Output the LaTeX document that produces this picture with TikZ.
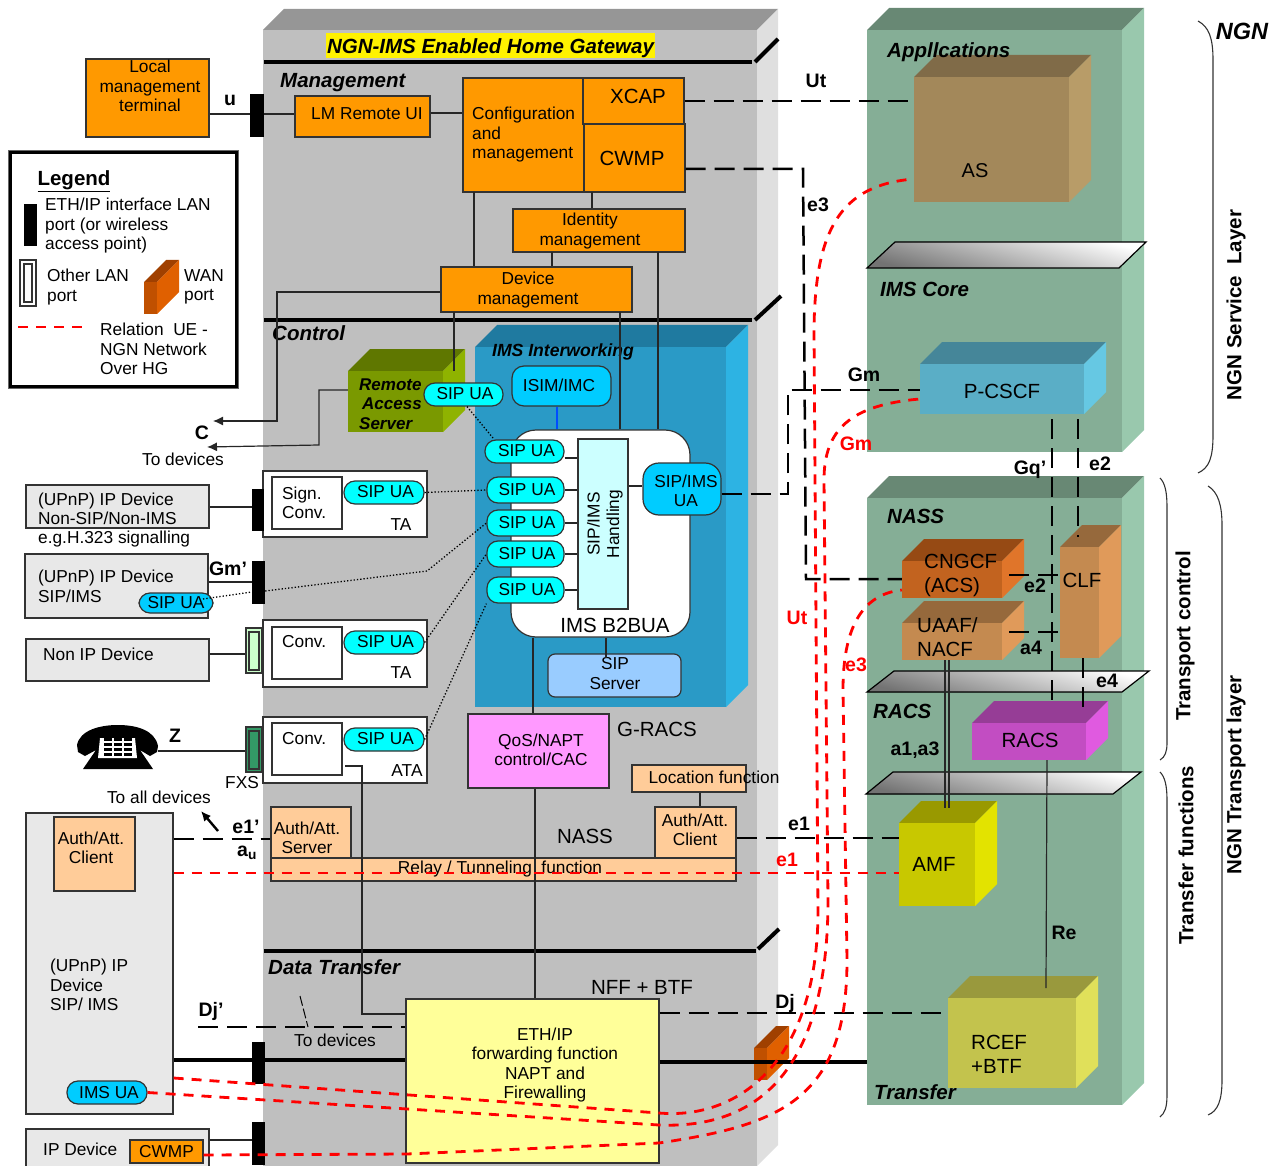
\documentclass[tikz,border=0pt]{standalone}
\usepackage{fontspec}
\setmainfont{Liberation Sans}
\usetikzlibrary{arrows.meta}

\definecolor{fnorange}{HTML}{FF9900}
\definecolor{fnpeach}{HTML}{FFCC99}
\definecolor{sipcyan}{HTML}{00FFFF}
\definecolor{uablue}{HTML}{00CCFF}
\definecolor{devgrey}{HTML}{E8E8E8}
\definecolor{hdlcyan}{HTML}{CCFFFF}
\definecolor{srvblue}{HTML}{99CCFF}
\definecolor{qospink}{HTML}{FF99FF}
\definecolor{nffyellow}{HTML}{FFFF99}
\definecolor{lanlight}{HTML}{CCFFCC}
\definecolor{fxsgreen}{HTML}{339966}
\definecolor{gwfront}{HTML}{BFBFBF}
\definecolor{gwtop}{HTML}{969696}
\definecolor{gwside}{HTML}{DFDFDF}
\definecolor{imsfront}{HTML}{2A9AC6}
\definecolor{imstop}{HTML}{1F7AA0}
\definecolor{imsside}{HTML}{2DB3E3}
\definecolor{ngnfront}{HTML}{85AE96}
\definecolor{ngntop}{HTML}{688874}
\definecolor{ngnside}{HTML}{99C8AD}
\definecolor{asfront}{HTML}{A3885A}
\definecolor{astop}{HTML}{806B48}
\definecolor{asside}{HTML}{B89C68}
\definecolor{cscffront}{HTML}{5AAEC6}
\definecolor{cscftop}{HTML}{458699}
\definecolor{cscfside}{HTML}{66C8E3}
\definecolor{cngfront}{HTML}{C2631F}
\definecolor{cngtop}{HTML}{964A14}
\definecolor{cngside}{HTML}{E0752A}
\definecolor{nacffront}{HTML}{C48A50}
\definecolor{nacftop}{HTML}{96693C}
\definecolor{nacfside}{HTML}{E09A5A}
\definecolor{racsfront}{HTML}{C24DC2}
\definecolor{racstop}{HTML}{963D96}
\definecolor{racsside}{HTML}{E05AE0}
\definecolor{amffront}{HTML}{C8C800}
\definecolor{amftop}{HTML}{999900}
\definecolor{amfside}{HTML}{E3E300}
\definecolor{rceffront}{HTML}{C3C34D}
\definecolor{reeftop}{HTML}{99993D}
\definecolor{rcefside}{HTML}{E0E05A}
\definecolor{wanfront}{HTML}{C05000}
\definecolor{wantop}{HTML}{A04000}
\definecolor{wanside}{HTML}{E06000}
\definecolor{rasfront}{HTML}{7A9900}
\definecolor{rastop}{HTML}{5F7700}
\definecolor{rasside}{HTML}{8FB300}

\tikzset{
  bxs/.style={draw=black!80, line width=1.2pt, inner sep=0pt, align=center,
    font=\fontsize{17.3}{19.5}\selectfont},
  orangebox/.style={bxs, fill=fnorange},
  peachbox/.style={bxs, fill=fnpeach},
  devbox/.style={bxs, fill=devgrey},
  whitebox/.style={bxs, fill=white},
  sippill/.style={bxs, fill=sipcyan, rounded corners=11pt},
  uapill/.style={bxs, fill=uablue, rounded corners=11pt},
  lanport/.style={fill=black, inner sep=0pt},
  txt/.style={font=\fontsize{17.3}{19.5}\selectfont, align=center, inner sep=0pt},
  txtl/.style={txt, align=left, anchor=west},
  bigtxt/.style={font=\fontsize{20.5}{24}\selectfont, align=center, inner sep=0pt},
  hdr/.style={font=\fontsize{20.5}{24}\selectfont\bfseries\itshape, inner sep=0pt},
  iface/.style={font=\fontsize{19.5}{22}\selectfont\bfseries, inner sep=0pt},
  ifred/.style={iface, text=red},
  vlabel/.style={font=\fontsize{20.5}{24}\selectfont\bfseries, rotate=90, inner sep=0pt},
  conn/.style={draw=black!85, line width=1.2pt},
  secline/.style={line width=4pt},
  sigdash/.style={line width=2.5pt, dash pattern=on 20pt off 9pt},
  reddash/.style={red, line width=2.8pt, dash pattern=on 10pt off 8pt},
  sipdots/.style={line width=1.3pt, dotted},
  brace/.style={black!80, line width=1.1pt},
  sepplane/.style={draw=black, line width=1.2pt, bottom color=black!55, top color=white, shading angle=-15}
}

% box by its corners: style, name, x1, y1, x2, y2, text
\newcommand{\boxat}[7]{\node[#1, minimum width={(#5-#3)*1pt}, minimum height={(#6-#4)*1pt}]
  (#2) at ({(#3+#5)/2},{(#4+#6)/2}) {#7};}
% solid block: name, x1, y1, x2, y2, depth, front, top, side
\newcommand{\blockat}[9]{
  \fill[#8] (#2,#3) -- ++(#6,-#6) -- ({#4+#6},{#3-#6}) -- (#4,#3) -- cycle;
  \fill[#9] (#4,#3) -- ({#4+#6},{#3-#6}) -- ({#4+#6},{#5-#6}) -- (#4,#5) -- cycle;
  \node[fill=#7, inner sep=0pt, minimum width={(#4-#2)*1pt}, minimum height={(#5-#3)*1pt}]
    (#1) at ({(#2+#4)/2},{(#3+#5)/2}) {};}
\newcommand{\sipua}{\hspace*{3pt}\raisebox{1.5pt}{SIP UA}}

\begin{document}
\begin{tikzpicture}[x=1pt, y=-1pt]
  \useasboundingbox (0,0) rectangle (1277,1166);

  % big blocks
  \blockat{gw}{263}{30}{757}{1166}{21}{gwfront}{gwtop}{gwside}
  \blockat{imsblk}{475}{347}{726}{707}{22}{imsfront}{imstop}{imsside}
  \blockat{svc}{867}{30}{1122}{452}{22}{ngnfront}{ngntop}{ngnside}
  \blockat{tpt}{867}{498}{1122}{1105}{22}{ngnfront}{ngntop}{ngnside}

  % section bars of the gateway
  \draw[secline] (264,62) -- (752,62);
  \draw[secline] (755,62) -- (778,39);
  \draw[secline] (264,320) -- (752,320);
  \draw[secline] (755,320) -- (781,296);
  \draw[secline] (264,951) -- (756,951);
  \draw[secline] (758,949) -- (779,929);

  \node[fill=yellow, minimum width=329pt, minimum height=25pt, inner sep=0pt] (titlebg) at (490.5,45.5) {};
  \node[hdr] (title) at (490.5,48) {NGN-IMS Enabled Home Gateway};
  \node[hdr, anchor=west] (mgmt) at (280,83) {Management};
  \node[hdr, anchor=west] (ctrl) at (272,333) {Control};
  \node[hdr, anchor=west] (dtrans) at (268,967) {Data Transfer};

  % management
  \boxat{orangebox}{lmt}{86}{59}{209}{137}{}
  \node[txt] (lmttxt) at (150,86) {Local\\management\\terminal};
  \boxat{lanport}{portu}{250}{94}{264}{137}{}
  \boxat{orangebox}{lmui}{295}{96}{430}{137}{}
  \node[txt] (lmuitxt) at (367,114) {LM Remote UI};
  \boxat{orangebox}{cfg}{463}{78}{584}{192}{}
  \node[txtl] (cfgtxt) at (472,135) {Configuration\\and\\management};
  \boxat{orangebox}{xcap}{583}{78}{684}{124}{}
  \node[bigtxt] (xcaptxt) at (638,96) {XCAP};
  \boxat{orangebox}{cwmp}{584}{124}{685}{192}{}
  \node[bigtxt] (cwmptxt) at (632,158) {CWMP};
  \boxat{orangebox}{idm}{513}{209}{685}{252}{}
  \node[txt] (idmtxt) at (590,231) {Identity\\management};
  \boxat{orangebox}{devm}{441}{267}{632}{312}{}
  \node[txt] (devmtxt) at (528,290) {Device\\management};

  % legend
  \draw[black!60, line width=1pt] (8,151) rectangle (238,388);
  \draw[line width=3pt] (10,153) rectangle (236,386);
  \node[font=\fontsize{20.5}{24}\selectfont\bfseries, inner sep=0pt] (leg) at (74,181) {\underline{Legend}};
  \boxat{lanport}{legport}{24}{204}{37}{246}{}
  \node[txtl] (legporttxt) at (45,226) {ETH/IP interface LAN\\port (or wireless\\access point)};
  \boxat{whitebox}{legother}{20}{260}{36}{306}{}
  \boxat{whitebox}{legotherin}{24}{264}{32}{302}{}
  \node[txtl] (legothertxt) at (47,287) {Other LAN\\port};
  \blockat{legwan}{144}{282}{157}{314}{22}{wanfront}{wantop}{wanside}
  \node[txtl] (legwantxt) at (184,287) {WAN\\port};
  \coordinate (legreda) at (18,327);
  \coordinate (legredb) at (84,327);
  \draw[reddash] (legreda) -- (legredb);
  \node[txtl] (legredtxt) at (100,349) {Relation\ \ UE -\\NGN Network\\Over HG};

  % control functions
  \blockat{ras}{348}{371}{443}{432}{22}{rasfront}{rastop}{rasside}
  \node[font=\fontsize{17}{19.5}\selectfont\bfseries\itshape, align=left, anchor=west, inner sep=0pt] (rastxt) at (359,404) {Remote\\\hspace*{3pt}Access\\Server};
  \boxat{sippill}{rasua}{424}{383}{503}{406}{\sipua}
  \boxat{uapill, rounded corners=12pt}{isim}{512}{366}{611}{406}{}
  \node[txt] (isimtxt) at (559,385) {ISIM/IMC};
  \node[font=\fontsize{17.6}{20}\selectfont\bfseries\itshape, inner sep=0pt] (imsint) at (563,352) {IMS Interworking};
  \boxat{whitebox, rounded corners=25pt}{b2b}{511}{430}{690}{637}{}
  \node[bigtxt] (b2btxt) at (615,625) {IMS B2BUA};
  \boxat{bxs, fill=hdlcyan}{hdl}{578}{439}{628}{609}{}
  \node[txt, rotate=90] (hdltxt) at (605,524) {SIP/IMS\\Handling};
  \boxat{uapill, rounded corners=16pt}{imsua}{643}{463}{721}{515}{}
  \node[txt] (imsuatxt) at (686,491) {SIP/IMS\\UA};
  \boxat{sippill}{ua1}{485}{440}{564}{463}{\hspace*{1pt}\sipua}
  \boxat{sippill}{ua2}{487}{477}{564}{503}{\sipua}
  \boxat{sippill}{ua3}{487}{510}{564}{536}{\sipua}
  \boxat{sippill}{ua4}{487}{541}{564}{567}{\sipua}
  \boxat{sippill}{ua5}{487}{577}{564}{603}{\sipua}
  \boxat{bxs, fill=srvblue, rounded corners=7pt}{srv}{548}{654}{681}{697}{}
  \node[txt] (srvtxt) at (615,673.5) {SIP\\Server};
  \boxat{bxs, fill=qospink}{qos}{468}{714}{609}{788}{}
  \node[txt] (qostxt) at (541,750) {QoS/NAPT\\control/CAC};
  \node[bigtxt] (gracs) at (657,729) {G-RACS};
  \boxat{peachbox}{loc}{632}{765}{746}{792}{}
  \node[txt] (loctxt) at (714,777) {Location function};
  \boxat{peachbox}{autc}{655}{807}{736}{858}{}
  \node[txt] (autctxt) at (695,830) {Auth/Att.\\Client};
  \boxat{peachbox}{auts}{271}{807}{351}{858}{}
  \node[txt] (autstxt) at (307,838) {Auth/Att.\\Server};
  \boxat{peachbox}{relay}{271}{858}{736}{881}{}
  \node[txt] (relaytxt) at (500,869) {Relay / Tunneling\ \ function};
  \node[bigtxt] (nassfn) at (585,836) {NASS};

  % terminal adapters
  \boxat{whitebox}{ta1}{263}{471}{427}{537}{}
  \boxat{whitebox}{ta1c}{272}{477}{342}{529}{}
  \node[txtl] (ta1ctxt) at (282,503) {Sign.\\Conv.};
  \boxat{sippill}{ta1ua}{344}{481}{424}{504}{\sipua}
  \node[txt] (ta1txt) at (401,525) {TA};
  \boxat{whitebox}{ta2}{263}{620}{427}{687}{}
  \boxat{whitebox}{ta2c}{272}{627}{342}{679}{}
  \node[txtl] (ta2ctxt) at (282,642) {Conv.};
  \boxat{sippill}{ta2ua}{344}{631}{424}{654}{\sipua}
  \node[txt] (ta2txt) at (401,673) {TA};
  \boxat{whitebox}{ata}{263}{717}{427}{783}{}
  \boxat{whitebox}{atac}{272}{723}{342}{775}{}
  \node[txtl] (atactxt) at (282,739) {Conv.};
  \boxat{sippill}{ataua}{344}{728}{424}{751}{\sipua}
  \node[txt] (atatxt) at (407,771) {ATA};

  % ports
  \boxat{lanport}{port1}{252}{489}{264}{531}{}
  \boxat{lanport}{port2}{252}{561}{265}{604}{}
  \boxat{bxs, fill=lanlight}{port3}{246}{628}{262}{673}{}
  \boxat{bxs, fill=lanlight}{port3in}{249}{632}{259}{670}{}
  \boxat{bxs, fill=fxsgreen}{fxs}{246}{727}{262}{772}{}
  \boxat{bxs, fill=fxsgreen}{fxsin}{249}{731}{259}{769}{}
  \boxat{lanport}{port4}{252}{1042}{265}{1084}{}
  \boxat{lanport}{port5}{252}{1122}{265}{1165}{}

  % devices in the home
  \boxat{devbox}{dev1}{26}{485}{209}{528}{}
  \node[txtl] (dev1txt) at (38,509) {(UPnP) IP Device\\Non-SIP/Non-IMS};
  \node[txtl] (dev1sub) at (38,539) {e.g.H.323 signalling};
  \boxat{devbox}{dev2}{25}{554}{208}{618}{}
  \node[txtl] (dev2txt) at (38,586.5) {(UPnP) IP Device\\SIP/IMS};
  \boxat{uapill}{dev2ua}{139}{593}{213}{613}{SIP UA}
  \boxat{devbox}{dev3}{26}{639}{209}{681}{}
  \node[txtl] (dev3txt) at (43,654) {Non IP Device};
  \boxat{devbox}{dev4}{26}{813}{173}{1114}{}
  \boxat{peachbox}{dev4aut}{54}{817}{135}{891}{}
  \node[txt] (dev4auttxt) at (91,848) {Auth/Att.\\Client};
  \node[txtl] (dev4txt) at (50,985) {(UPnP) IP\\Device\\SIP/ IMS};
  \boxat{uapill}{dev4ua}{67}{1081}{147}{1104}{\hspace*{4pt}IMS UA}
  \boxat{devbox}{dev5}{26}{1129}{209}{1167}{}
  \node[txtl] (dev5txt) at (43,1149) {IP Device};
  \boxat{orangebox}{dev5cw}{130}{1140}{203}{1163}{CWMP}

  % phone
  \fill (77,745) .. controls (80,730) and (100,725) .. (118,725) .. controls (136,725) and (155,730) .. (158,746)
    -- (157,752) -- (150,756) -- (140,750) -- (153,769) -- (83,769) -- (96,750) -- (85,756) -- (78,752) -- cycle;
  \fill[white] (100,738) -- (135,738) -- (137,758) -- (98,758) -- cycle;
  \foreach \ky in {741,746,751,756} \foreach \kx in {104,114,124}
    \fill (\kx,\ky) rectangle ++(8,-3);
  \coordinate (phone) at (158,751);

  % blocks of the network
  \blockat{as}{914}{77}{1069}{202}{22}{asfront}{astop}{asside}
  \node[txt, font=\fontsize{20}{24}\selectfont] (astxt) at (975,171) {AS};
  \filldraw[sepplane] (867,268) -- (895,242) -- (1146,242) -- (1119,268) -- cycle;
  \blockat{pcscf}{920}{364}{1084}{414}{22}{cscffront}{cscftop}{cscfside}
  \node[bigtxt] (pcscftxt) at (1002,391) {P-CSCF};
  \blockat{cngcf}{902}{561}{1002}{598}{22}{cngfront}{cngtop}{cngside}
  \node[bigtxt, align=left, anchor=west] (cngcftxt) at (924,575) {CNGCF\\(ACS)};
  \blockat{uaaf}{902}{623}{1002}{660}{22}{nacffront}{nacftop}{nacfside}
  \node[bigtxt, align=left, anchor=west] (uaaftxt) at (917,637) {UAAF/\\NACF};
  \blockat{clf}{1060}{547}{1099}{658}{22}{nacffront}{nacftop}{nacfside}
  \node[bigtxt] (clftxt) at (1082,580) {CLF};
  \filldraw[sepplane] (867,692) -- (894,671) -- (1149,671) -- (1122,692) -- cycle;
  \blockat{racs}{972}{723}{1086}{760}{22}{racsfront}{racstop}{racsside}
  \node[bigtxt] (racstxt) at (1030,740) {RACS};
  \filldraw[sepplane] (866,794) -- (893,772) -- (1141,772) -- (1113,794) -- cycle;
  \blockat{amf}{899}{823}{975}{906}{22}{amffront}{amftop}{amfside}
  \node[bigtxt] (amftxt) at (934,864) {AMF};
  \blockat{rcef}{948}{998}{1076}{1088}{22}{rceffront}{reeftop}{rcefside}
  \node[bigtxt, align=left, anchor=west] (rceftxt) at (971,1054) {RCEF\\+BTF};
  \blockat{wan}{754}{1048}{767}{1080}{22}{wanfront}{wantop}{wanside}
  \boxat{bxs, fill=nffyellow}{nff}{406}{999}{659}{1163}{}
  \node[txt] (nfftxt) at (545,1065) {ETH/IP\\forwarding function\\NAPT and\\Firewalling};
  \node[bigtxt] (nfflbl) at (642,987) {NFF + BTF};

  \node[hdr, anchor=west] (apps) at (887,52) {Appllcations};
  \node[hdr, anchor=west] (imscore) at (880,289) {IMS Core};
  \node[hdr, anchor=west] (nassh) at (887,516) {NASS};
  \node[hdr, anchor=west] (racsh) at (873,711) {RACS};
  \node[hdr, anchor=west] (transf) at (874,1092) {Transfer};

  % solid connectors
  \draw[conn] (lmt.east |- 0,114) -- (portu.west |- 0,114);
  \draw[conn] (portu.east |- 0,114) -- (lmui.west |- 0,114);
  \draw[conn] (lmui.east |- 0,113) -- (cfg.west |- 0,113);
  \draw[conn] (592,192) -- (idm.north -| 592,0);
  \draw[conn] (474,192) -- (devm.north -| 474,0);
  \draw[conn] (552,252) -- (devm.north -| 552,0);
  \draw[conn] (658,252) -- (b2b.north -| 658,0);
  \draw[conn] (620,312) -- (b2b.north -| 620,0);
  \draw[conn] (454,312) -- (ras.north -| 454,0);
  \draw[conn, blue!70!cyan, line width=1.6pt] (isim.south -| 557,0) -- (b2b.north -| 557,0);
  \draw[conn] (hdl.east |- 0,486) -- (imsua.west |- 0,486);
  \draw[conn] (ua1.east |- 0,458) -- (hdl.west |- 0,458);
  \draw[conn] (ua2.east) -- (hdl.west |- ua2.east);
  \draw[conn] (ua3.east) -- (hdl.west |- ua3.east);
  \draw[conn] (ua4.east) -- (hdl.west |- ua4.east);
  \draw[conn] (ua5.east) -- (hdl.west |- ua5.east);
  \draw[conn] (b2b.south -| 606,0) -- (606,658);
  \draw[conn] (b2b.south -| 533,0) -- (qos.north -| 533,0);
  \draw[conn] (qos.south -| 535,0) -- (nff.north -| 535,0);
  \draw[conn] (loc.south -| 700,0) -- (autc.north -| 700,0);
  \draw[conn] (345,766) -- (362,766) -- (362,1014) -- (nff.west |- 0,1014);
  \draw[conn] (dev1.east |- 0,507) -- (port1.west |- 0,507);
  \draw[conn] (dev2.east |- 0,582) -- (port2.west |- 0,582);
  \draw[conn] (dev3.east |- 0,654) -- (port3.west |- 0,654);
  \draw[conn] (phone) -- (fxs.west |- phone);
  \draw[conn] (dev5.east |- 0,1140) -- (port5.west |- 0,1140);
  \draw[conn] (uaaf.south -| 945,0) -- (945,808);
  \draw[conn] (uaaf.south -| 949,0) -- (949,808);
  \draw[conn] (racs.south -| 1047,0) -- (1046,988);
  \draw[line width=4pt] (dev4.east |- 0,1060) -- (nff.west |- 0,1060);
  \draw[line width=4pt] (nff.east |- 0,1062) -- (tpt.west |- 0,1062);

  % arrows towards devices
  \draw[conn, -{Latex[length=10pt,width=9pt]}] (devm.west |- 0,292) -- (277,292) -- (277,421) -- (213,421);
  \draw[conn, -{Latex[length=10pt,width=9pt]}] (ras.west |- 0,390) -- (319,390) -- (319,445) -- (207,447);
  \draw[line width=2.4pt, -{Latex[length=10pt,width=9pt]}] (218,831) -- (201,811);

  % dotted SIP relations
  \draw[sipdots] (rasua.south -| 467,0) -- (493,438);
  \draw[sipdots] (ta1ua.east) -- (ua2.west);
  \draw[sipdots] (203,599) -- (port2.west |- 0,592);
  \draw[sipdots] (port2.east |- 0,591) -- (427,571) -- (ua3.west);
  \draw[sipdots] (ta2ua.east) -- (ua4.west);
  \draw[sipdots] (ataua.east) -- (ua5.south west);

  % reference points, dashed
  \draw[sigdash] (xcap.east) -- (as.west |- xcap.east);
  \draw[sigdash] (cwmp.east |- 0,169) -- (803,169) -- (806,579) -- (cngcf.west |- 0,579);
  \draw[sigdash] (imsua.east |- 0,494) -- (788,494) -- (788,390) -- (pcscf.west |- 0,390);
  \draw[sigdash] (pcscf.south -| 1052,0) ++(0,5) -- (1052,708);
  \draw[sigdash] (pcscf.south -| 1078,0) ++(0,5) -- (1078,537);
  \draw[sigdash] (cngcf.east |- 0,575) ++(7,0) -- (clf.west |- 0,575);
  \draw[sigdash] (uaaf.east |- 0,632) ++(7,0) -- (clf.west |- 0,632);
  \draw[sigdash] (clf.south -| 1083,0) -- (1083,707);
  \draw[sigdash] (dev4.east |- 0,839) -- (auts.west |- 0,839);
  \draw[sigdash] (autc.east |- 0,838) -- (amf.west |- 0,838);
  \draw[sigdash] (198,1027) -- (nff.west |- 0,1027);
  \draw[sigdash] (nff.east |- 0,1013) -- (rcef.west |- 0,1013);
  \draw[black, line width=1pt, dash pattern=on 10pt off 3pt] (300,996) -- (308,1027);

  % relation UE - NGN over the gateway
  \draw[reddash] (dev4.east |- 0,873) -- (amf.west |- 0,873);
  \draw[reddash] (dev4.east |- 0,1078) -- (659,1113) .. controls (740,1120) and (817,1060) .. (818,913)
    -- (814,330) .. controls (815,230) and (840,185) .. (as.west |- 0,179);
  \draw[reddash] (dev4ua.east) -- (659,1125) .. controls (780,1130) and (828,1040) .. (828,900)
    -- (824,480) .. controls (824,430) and (850,405) .. (pcscf.west |- 0,399);
  \draw[reddash] (dev5cw.east |- 0,1155) -- (407,1154) -- (659,1143) .. controls (780,1125) and (847,1100) .. (847,960)
    -- (843,690) .. controls (843,640) and (855,595) .. (cngcf.west |- 0,590);

  % interface names
  \node[iface] (lu) at (230,100) {u};
  \node[iface] (lc) at (202,433) {C};
  \node[txt] (ltodev) at (183,459) {To devices};
  \node[iface] (lgmp) at (228,569) {Gm’};
  \node[iface] (lz) at (175,736) {Z};
  \node[txt] (lfxs) at (242,783) {FXS};
  \node[txt] (lall) at (159,797) {To all devices};
  \node[iface] (le1p) at (246,827) {e1’};
  \node[iface] (lau) at (247,853) {a\textsubscript{u}};
  \node[iface] (ldjp) at (211,1011) {Dj’};
  \node[txt] (ltodev2) at (335,1040) {To devices};
  \node[iface] (ldj) at (785,1003) {Dj};
  \node[iface] (lut) at (816,81) {Ut};
  \node[iface] (le3) at (818,205) {e3};
  \node[iface] (lgm) at (864,375) {Gm};
  \node[iface] (lgq) at (1030,470) {Gq’};
  \node[iface] (le2a) at (1100,464) {e2};
  \node[iface] (le2b) at (1035,586) {e2};
  \node[iface] (la4) at (1031,648) {a4};
  \node[iface] (le4) at (1107,681) {e4};
  \node[iface] (la1) at (915,750) {a1,a3};
  \node[iface] (le1) at (799,824) {e1};
  \node[iface] (lre) at (1064,933) {Re};
  \node[ifred] (rgm) at (856,444) {Gm};
  \node[ifred] (rut) at (797,618) {Ut};
  \node[ifred] (re3) at (856,665) {e3};
  \node[ifred] (re1) at (787,860) {e1};

  % layer braces
  \draw[brace] (1198,21) .. controls (1209,27) and (1213,38) .. (1213,60) -- (1213,435) .. controls (1213,458) and (1209,468) .. (1198,473);
  \draw[brace] (1160,478) .. controls (1165,483) and (1167,492) .. (1167,507) -- (1167,743) .. controls (1167,752) and (1165,757) .. (1160,760);
  \draw[brace] (1160,772) .. controls (1165,777) and (1167,786) .. (1167,800) -- (1167,1095) .. controls (1167,1107) and (1165,1113) .. (1160,1117);
  \draw[brace] (1208,486) .. controls (1218,492) and (1222,505) .. (1222,525) -- (1222,1080) .. controls (1222,1100) and (1218,1111) .. (1208,1115);
  \node[font=\fontsize{23.5}{26}\selectfont\bfseries\itshape, inner sep=0pt] (ngn) at (1242,31) {NGN};
  \node[vlabel] (lsvc) at (1236,305) {NGN Service\ \ Layer};
  \node[vlabel] (ltc) at (1185,636) {Transport control};
  \node[vlabel] (ltf) at (1186,855) {Transfer functions};
  \node[vlabel] (ltl) at (1236,775) {NGN Transport layer};
\end{tikzpicture}
\end{document}
